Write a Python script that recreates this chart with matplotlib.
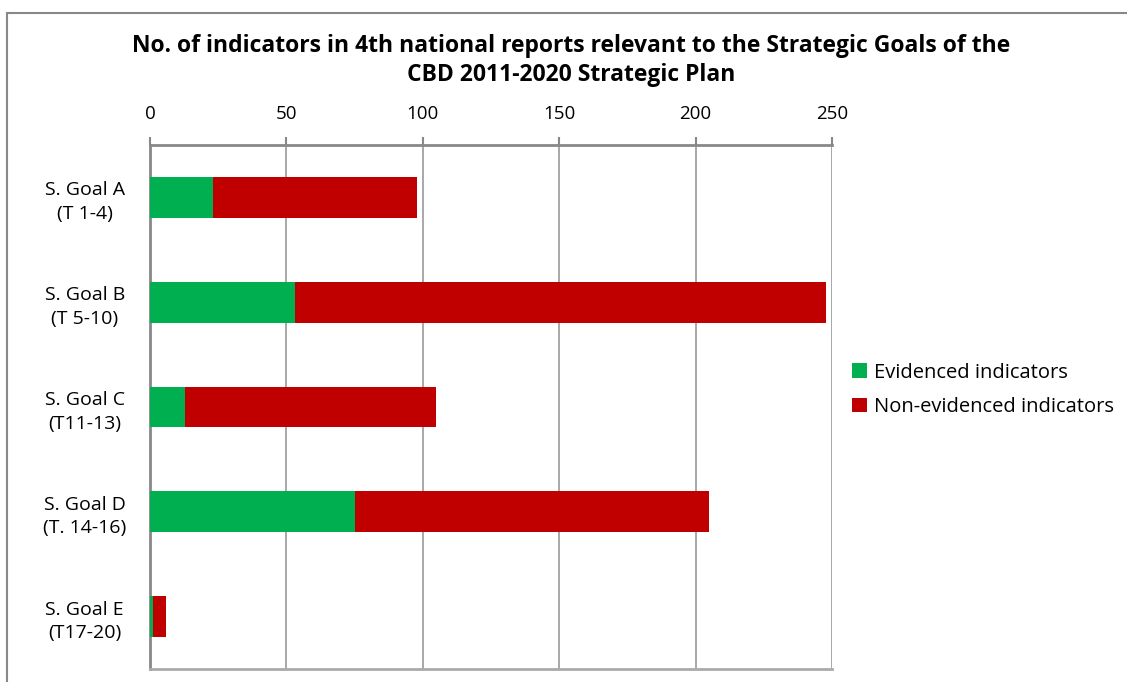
import matplotlib
matplotlib.use("Agg")
import matplotlib.pyplot as plt
from matplotlib.patches import Rectangle
import numpy as np

categories = ["S. Goal A\n(T 1-4)", "S. Goal B\n(T 5-10)", "S. Goal C\n(T11-13)",
              "S. Goal D\n(T. 14-16)", "S. Goal E\n(T17-20)"]
evidenced = [23, 53, 13, 75, 1]
non_evidenced = [75, 195, 92, 130, 5]
series_names = ["Evidenced indicators", "Non-evidenced indicators"]
colors = ["#00B050", "#C00000"]
xticks = [0, 50, 100, 150, 200, 250]

plt.rcParams['font.family'] = ['Open Sans', 'DejaVu Sans']

fig = plt.figure(figsize=(11.27, 6.82), dpi=100)
ax = fig.add_axes([0.1331, 0.0191, 0.7382 - 0.1331, 0.7874 - 0.0191])

y = np.arange(len(categories))
ax.barh(y, evidenced, height=0.39, color=colors[0], label=series_names[0], zorder=3)
ax.barh(y, non_evidenced, left=evidenced, height=0.39, color=colors[1], label=series_names[1], zorder=3)

ax.set_ylim(len(categories) - 0.5, -0.5)
ax.set_xlim(0, 250)
ax.set_yticks(y)
ax.set_yticklabels(categories, fontsize=14, ha='center', linespacing=1.4)
ax.tick_params(axis='y', length=0, pad=47)
ax.xaxis.tick_top()
ax.set_xticks(xticks)
ax.set_xticklabels([str(v) for v in xticks], fontsize=13.5)
ax.tick_params(axis='x', length=6, width=1.5, color='#888888', pad=10, direction='out')
ax.grid(axis='x', color='#999999', linewidth=1.2, zorder=0)

for s in ['top', 'left', 'bottom']:
    ax.spines[s].set_color('#888888')
    ax.spines[s].set_linewidth(2)
ax.spines['right'].set_visible(False)
ax.spines['bottom'].set_color('#aaaaaa')

leg = fig.legend(loc='upper left', bbox_to_anchor=(0.7395, 0.495), frameon=False,
                 fontsize=14.5, handlelength=0.75, handleheight=0.75, handletextpad=0.35,
                 labelspacing=0.72)

fig.text(0.507, 0.911, "No. of indicators in 4th national reports relevant to the Strategic Goals of the\nCBD 2011-2020 Strategic Plan",
         ha='center', va='center', fontsize=16.5, fontweight='bold', linespacing=1.25)

fig.patches.append(Rectangle((7 / 1127, -0.1), 1.2, 1 - 13 / 682 + 0.1, transform=fig.transFigure,
                             fill=False, edgecolor='#888888', linewidth=1.5))

fig.savefig("out.png", dpi=100)
